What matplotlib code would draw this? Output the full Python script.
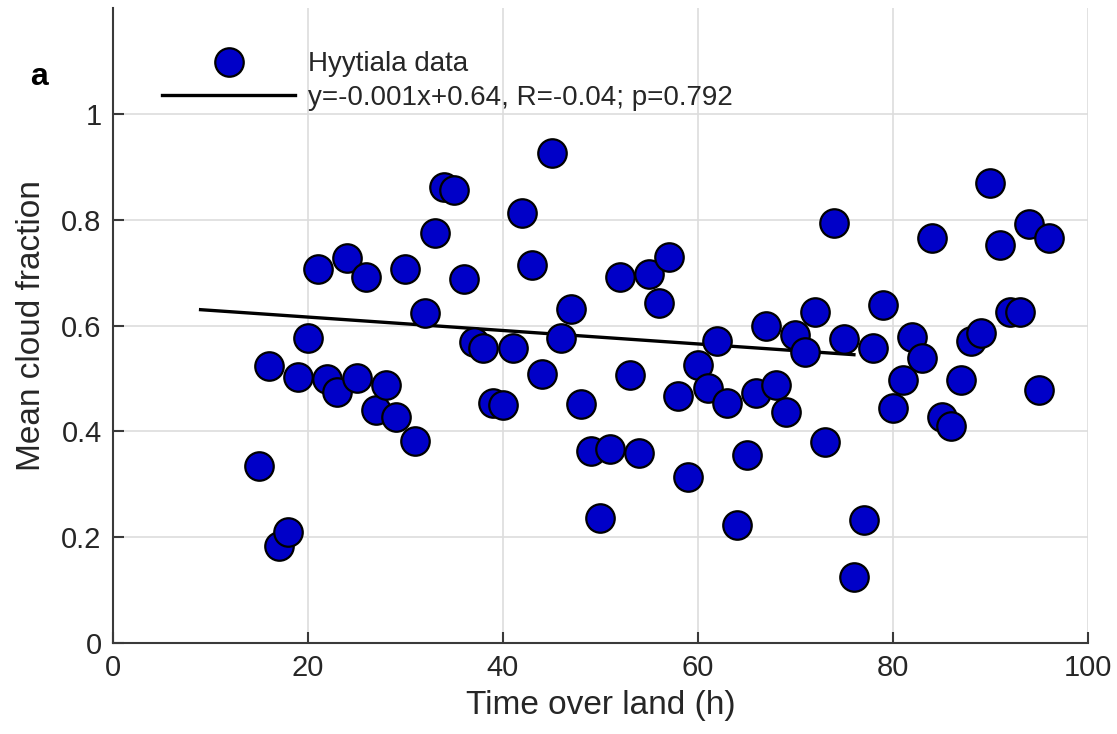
import numpy as np
import matplotlib.pyplot as plt
from matplotlib.lines import Line2D

plt.rcParams['font.family'] = ['Liberation Sans', 'DejaVu Sans']

# Hyytiala: time over land (h) vs mean cloud fraction
hours = [15, 16, 17, 18, 19, 20, 21, 22, 23, 24, 25, 26, 27, 28, 29, 30,
         31, 32, 33, 34, 35, 36, 37, 38, 39, 40, 41, 42, 43, 44, 45, 46,
         47, 48, 49, 50, 51, 52, 53, 54, 55, 56, 57, 58, 59, 60, 61, 62,
         63, 64, 65, 66, 67, 68, 69, 70, 71, 72, 73, 74, 75, 76, 77, 78,
         79, 80, 81, 82, 83, 84, 85, 86, 87, 88, 89, 90, 91, 92, 93, 94,
         95, 96]
cloud = [0.334, 0.523, 0.183, 0.209, 0.502, 0.577, 0.706, 0.498, 0.474, 0.728,
         0.500, 0.692, 0.440, 0.487, 0.428, 0.706, 0.381, 0.623, 0.775, 0.862,
         0.857, 0.687, 0.568, 0.557, 0.453, 0.449, 0.558, 0.813, 0.715, 0.509,
         0.926, 0.577, 0.632, 0.451, 0.362, 0.236, 0.366, 0.692, 0.506, 0.360,
         0.698, 0.642, 0.730, 0.466, 0.313, 0.525, 0.481, 0.570, 0.453, 0.223,
         0.355, 0.473, 0.599, 0.487, 0.436, 0.582, 0.550, 0.626, 0.380, 0.794,
         0.574, 0.125, 0.233, 0.558, 0.638, 0.445, 0.497, 0.579, 0.538, 0.766,
         0.428, 0.410, 0.497, 0.571, 0.585, 0.869, 0.753, 0.626, 0.626, 0.791,
         0.479, 0.766]

# regression line as drawn
fit_slope = -0.00127
fit_icpt = 0.6414
fit_range = [9, 76]
fit_label = "y=-0.001x+0.64, R=-0.04; p=0.792"

fig = plt.figure(figsize=(11.17, 7.34), dpi=100)
ax = fig.add_axes([0.101, 0.124, 0.873, 0.865])

fx = np.array(fit_range)
ax.plot(fx, fit_slope * fx + fit_icpt, color="black", lw=2.4, zorder=2)
ax.plot(hours, cloud, "o", ms=20.5, mfc="#0000c8", mec="black", mew=1.6,
        zorder=3)

ax.set_xlim(0, 100)
ax.set_ylim(0, 1.2)
ax.set_xticks([0, 20, 40, 60, 80, 100])
ax.set_yticks([0, 0.2, 0.4, 0.6, 0.8, 1])
ax.set_yticklabels(["0", "0.2", "0.4", "0.6", "0.8", "1"])
ax.grid(True, color="#dddddd", lw=1.2)
ax.set_axisbelow(True)
for s in ["top", "right"]:
    ax.spines[s].set_visible(False)
for s in ["left", "bottom"]:
    ax.spines[s].set_color("#3a3a3a")
    ax.spines[s].set_linewidth(1.5)
ax.tick_params(direction="in", length=8, width=1.5, color="#3a3a3a",
               labelsize=21, labelcolor="#262626", pad=8)
ax.set_xlabel("Time over land (h)", fontsize=24, color="#262626", labelpad=6)
ax.set_ylabel("Mean cloud fraction", fontsize=24, color="#262626", labelpad=10)

handles = [
    Line2D([], [], ls="none", marker="o", ms=20.5, mfc="#0000c8", mec="black",
           mew=1.6),
    Line2D([], [], color="black", lw=2.4),
]
fig.legend(handles, ["Hyytiala data", fit_label], loc="upper left",
           bbox_to_anchor=(162 / 1117, 0.93), frameon=False, fontsize=20,
           handlelength=4.8, handletextpad=0.45, borderpad=0,
           borderaxespad=0, labelspacing=0.28, labelcolor="#262626")

fig.text(0.027, 0.884, "a", fontsize=23, fontweight="bold")

fig.savefig("out.png", dpi=100)
